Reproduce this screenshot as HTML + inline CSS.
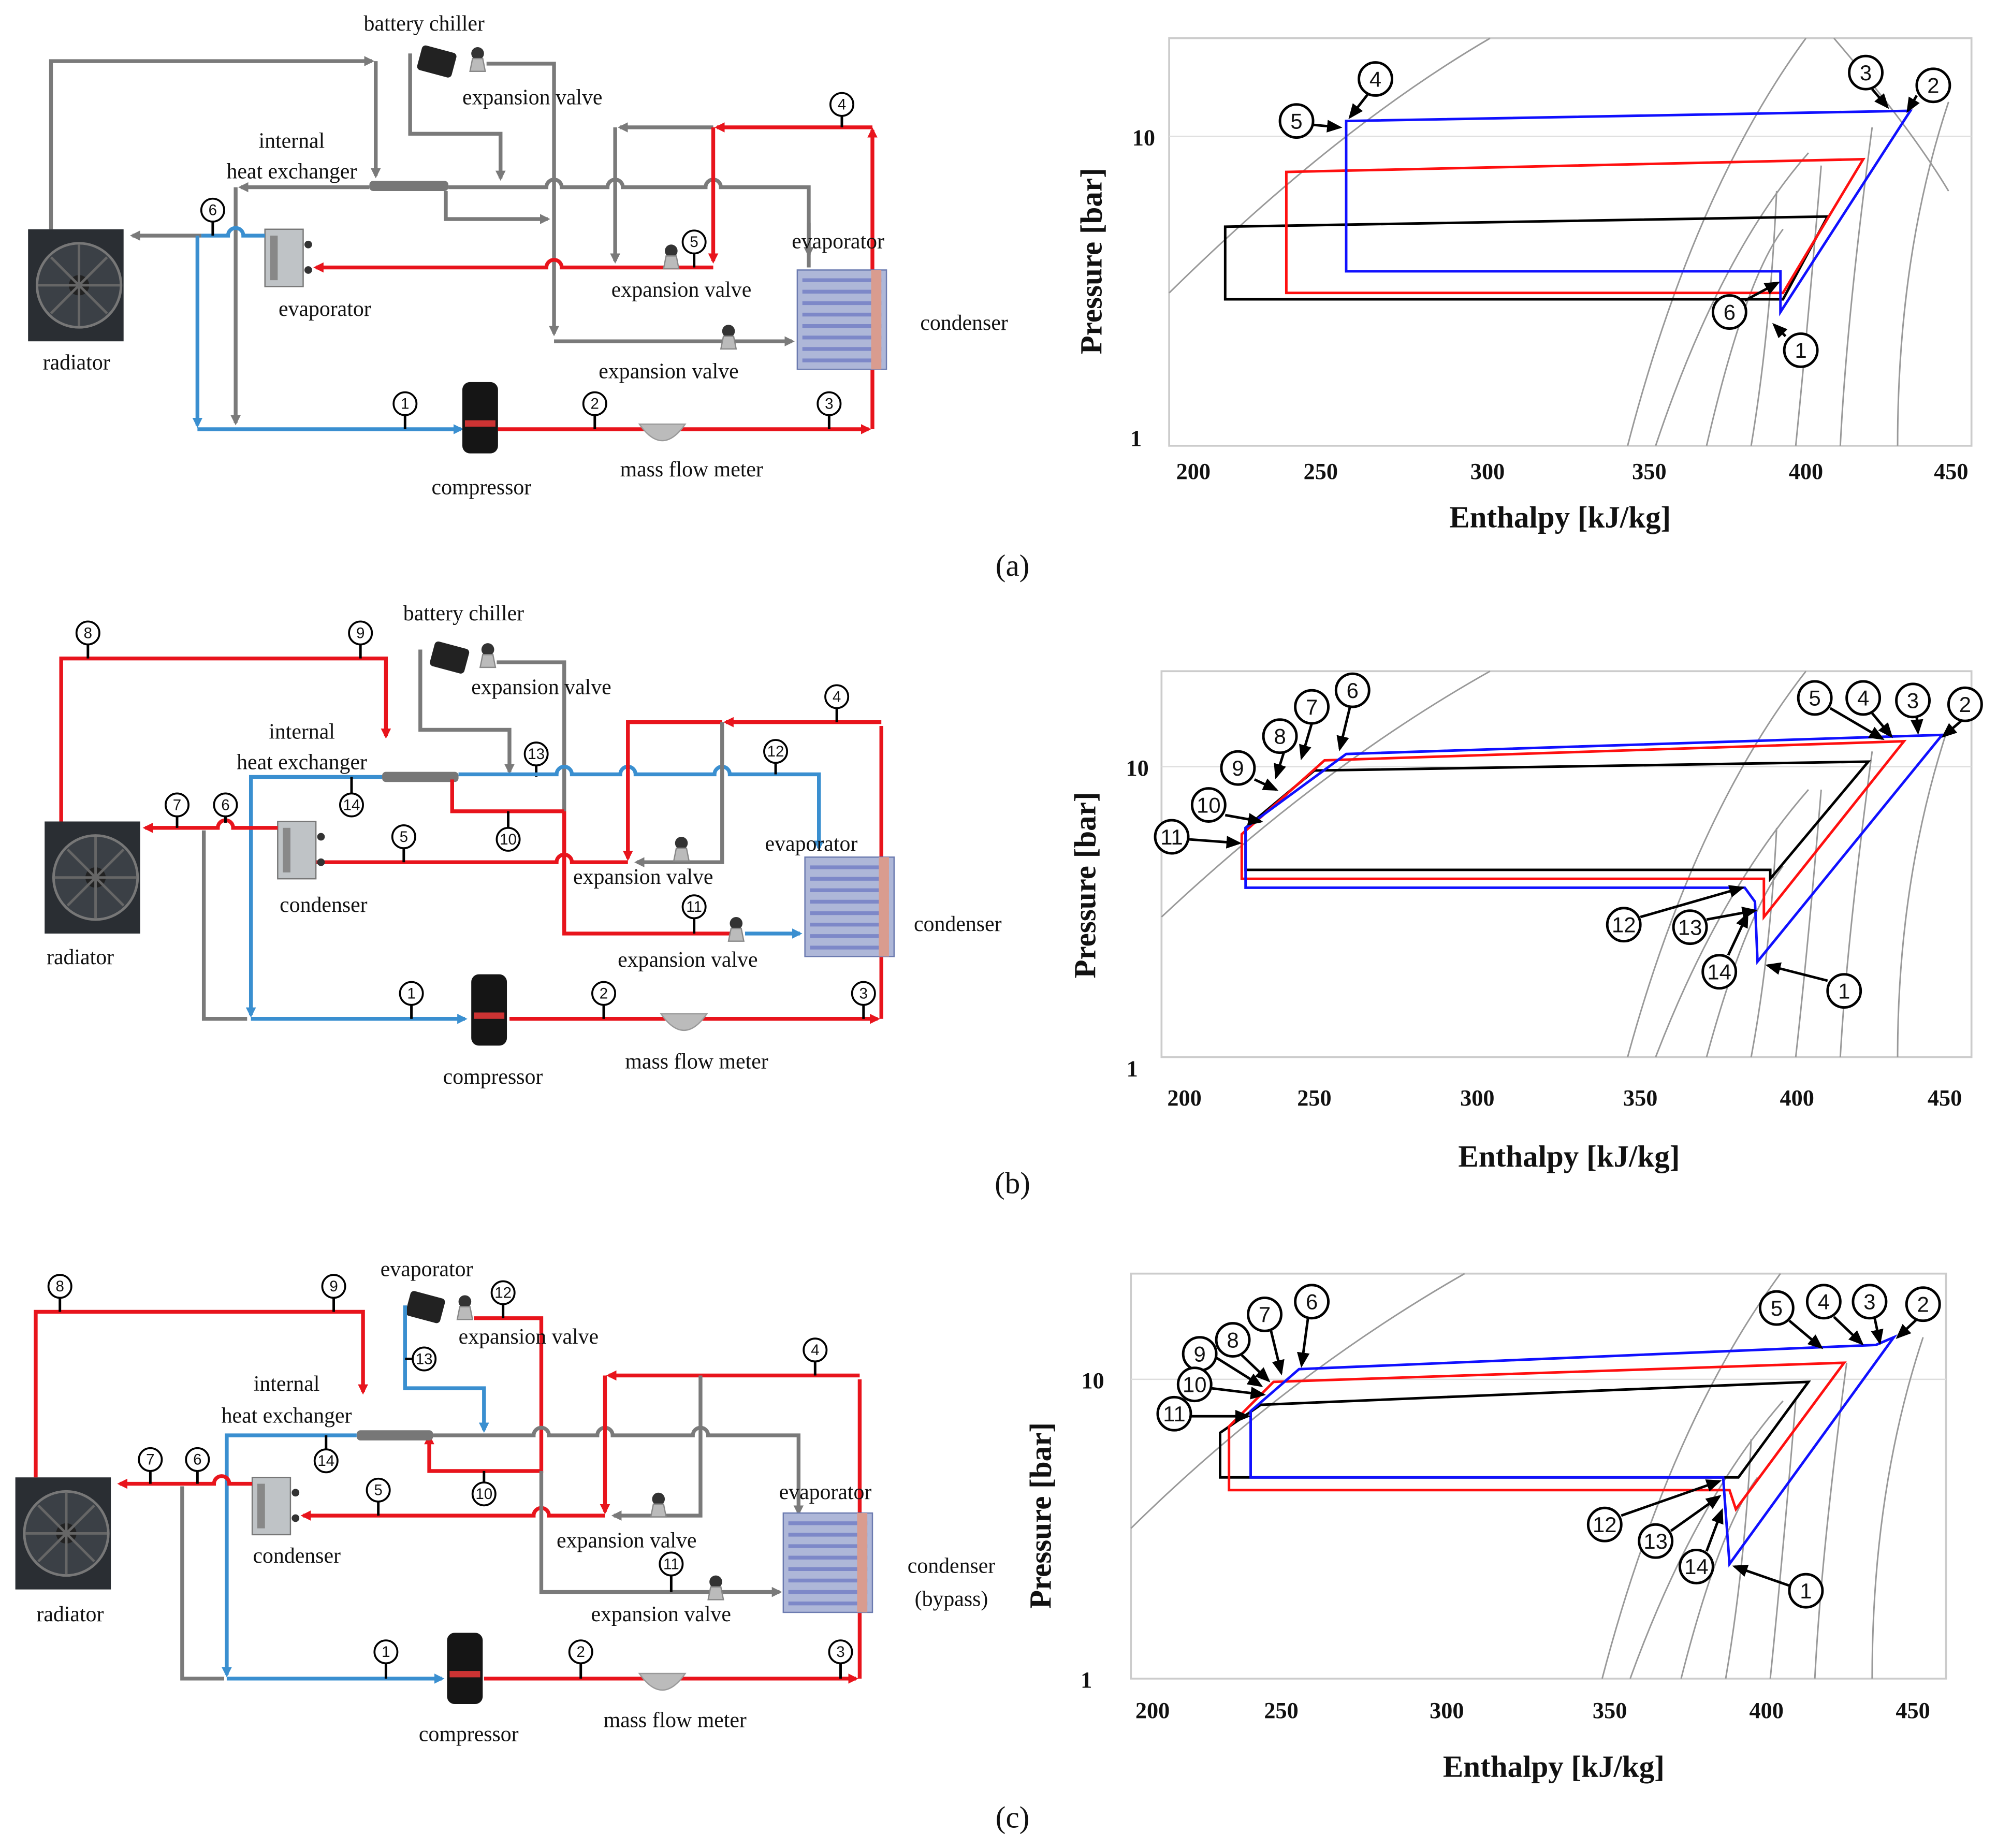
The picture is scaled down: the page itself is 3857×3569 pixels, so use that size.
<!DOCTYPE html>
<html><head><meta charset="utf-8"><style>
html,body{margin:0;padding:0;background:#fff;}
svg{display:block;}
text{font-family:"Liberation Serif",serif;fill:#111;}
.l{font-size:17px;text-anchor:middle;}
.n{font-size:12px;text-anchor:middle;font-family:"Liberation Sans",sans-serif;}
.pn{font-size:17px;text-anchor:middle;font-family:"Liberation Sans",sans-serif;}
.ax{font-size:20px;font-weight:bold;text-anchor:middle;}
.tk{font-size:18px;font-weight:bold;text-anchor:middle;}
.g{stroke:#7a7a7a;stroke-width:3;fill:none;}
.r{stroke:#e8141c;stroke-width:3;fill:none;}
.b{stroke:#3a8fd0;stroke-width:3;fill:none;}
.cb{stroke:#1010ff;stroke-width:2;fill:none;}
.cr{stroke:#ff1010;stroke-width:2;fill:none;}
.ck{stroke:#000;stroke-width:2;fill:none;}
.gr{stroke:#999;stroke-width:1.2;fill:none;}
.pa line{stroke:#000;stroke-width:2;marker-end:url(#ak);}
.dc circle{r:9;}
</style></head><body>
<svg width="3857" height="3569" viewBox="0 0 1568 1451" xmlns="http://www.w3.org/2000/svg">
<defs>
<marker id="ag" markerWidth="8" markerHeight="8" refX="6" refY="4" orient="auto" markerUnits="userSpaceOnUse"><path d="M0,0L8,4L0,8z" fill="#7a7a7a"/></marker>
<marker id="ar" markerWidth="8" markerHeight="8" refX="6" refY="4" orient="auto" markerUnits="userSpaceOnUse"><path d="M0,0L8,4L0,8z" fill="#e8141c"/></marker>
<marker id="ab" markerWidth="8" markerHeight="8" refX="6" refY="4" orient="auto" markerUnits="userSpaceOnUse"><path d="M0,0L8,4L0,8z" fill="#3a8fd0"/></marker>
<marker id="ak" markerWidth="12" markerHeight="10" refX="10" refY="5" orient="auto" markerUnits="userSpaceOnUse"><path d="M0,0L12,5L0,10z" fill="#000"/></marker>
<g id="rad"><rect x="0" y="0" width="75" height="88" fill="#2a2e33"/><circle cx="40" cy="44" r="33" fill="#3b4046" stroke="#777" stroke-width="2"/><circle cx="40" cy="44" r="8" fill="#222"/><path d="M40,12L40,76M8,44L72,44M18,22L62,66M62,22L18,66" stroke="#666" stroke-width="2"/></g>
<g id="comp"><rect x="0" y="0" width="28" height="56" rx="6" fill="#151515"/><rect x="2" y="30" width="24" height="5" fill="#c33"/></g>
<g id="evs"><rect x="0" y="0" width="30" height="45" fill="#bfc3c6" stroke="#777"/><rect x="4" y="5" width="6" height="35" fill="#888"/><circle cx="34" cy="12" r="3" fill="#333"/><circle cx="34" cy="32" r="3" fill="#333"/></g>
<g id="bhx"><rect x="0" y="0" width="70" height="78" fill="#aeb7d8" stroke="#6c7bb0"/><path d="M4,8H66M4,17H66M4,26H66M4,35H66M4,44H66M4,53H66M4,62H66M4,71H66" stroke="#7d88c8" stroke-width="3"/><rect x="58" y="0" width="8" height="78" fill="#d99c8f"/></g>
<g id="val"><circle cx="0" cy="-8" r="5" fill="#333"/><path d="M-4,-4L4,-4L6,6L-6,6z" fill="#bbb" stroke="#888"/></g>
<g id="chl"><rect x="0" y="0" width="28" height="20" rx="3" fill="#222" transform="rotate(15)"/></g>
<g id="mfm"><path d="M-18,-4Q0,22 18,-4z" fill="#bbb" stroke="#999"/></g>
</defs>

<g class="dc">
<!-- ================= PANEL A LEFT ================= -->
<use href="#rad" x="22" y="180"/>
<text class="l" x="60" y="290">radiator</text>
<path class="g" d="M40,180V48H292" marker-end="url(#ag)"/>
<path class="g" d="M295,48V138" marker-end="url(#ag)"/>
<text class="l" x="333" y="24">battery chiller</text>
<use href="#chl" x="332" y="35"/>
<use href="#val" x="375" y="50"/>
<path class="g" d="M382,50H435V262" marker-end="url(#ag)"/>
<path class="g" d="M322,42V105H393V140" marker-end="url(#ag)"/>
<text class="l" x="418" y="82">expansion  valve</text>
<text class="l" x="229" y="116">internal</text>
<text class="l" x="229" y="140">heat exchanger</text>
<path class="g" d="M290,147H189" marker-end="url(#ag)"/>
<path class="g" d="M185,147V332" marker-end="url(#ag)"/>
<rect x="290" y="142" width="62" height="8" rx="3" fill="#777"/>
<path class="g" d="M352,147H429a6,6 0 0 1 12,0H477a6,6 0 0 1 12,0H554a6,6 0 0 1 12,0H635V210"/>
<path class="g" d="M635,175V200" marker-end="url(#ag)"/>
<path class="g" d="M350,150V172H430" marker-end="url(#ag)"/>
<path class="g" d="M560,100H487" marker-end="url(#ag)"/>
<path class="g" d="M483,100V205" marker-end="url(#ag)"/>
<path class="r" d="M685,337V102" marker-end="url(#ar)"/>
<path class="r" d="M685,100H563" marker-end="url(#ar)"/>
<path class="r" d="M560,100V205" marker-end="url(#ar)"/>
<path class="r" d="M560,210H441a6,6 0 0 0 -12,0H248" marker-end="url(#ar)"/>
<use href="#val" x="527" y="205"/>
<line x1="661" y1="90" x2="661" y2="100" stroke="#000" stroke-width="2"/><circle cx="661" cy="82" r="9" fill="#fff" stroke="#000" stroke-width="1.5"/><text class="n" x="661" y="86">4</text>
<line x1="545" y1="198" x2="545" y2="210" stroke="#000" stroke-width="2"/><circle cx="545" cy="190" r="9" fill="#fff" stroke="#000" stroke-width="1.5"/><text class="n" x="545" y="194">5</text>
<path class="g" d="M435,268H622" marker-end="url(#ag)"/>
<use href="#val" x="572" y="268"/>
<text class="l" x="535" y="233">expansion  valve</text>
<text class="l" x="525" y="297">expansion  valve</text>
<use href="#evs" x="208" y="180"/>
<text class="l" x="255" y="248">evaporator</text>
<path class="b" d="M208,185H191a6,6 0 0 0 -12,0H158"/>
<path class="g" d="M158,185H104" marker-end="url(#ag)"/>
<path class="b" d="M155,185V334" marker-end="url(#ab)"/>
<path class="b" d="M155,337H362" marker-end="url(#ab)"/>
<line x1="167" y1="173" x2="167" y2="185" stroke="#000" stroke-width="2"/><circle cx="167" cy="165" r="9" fill="#fff" stroke="#000" stroke-width="1.5"/><text class="n" x="167" y="169">6</text>
<line x1="318" y1="325" x2="318" y2="337" stroke="#000" stroke-width="2"/><circle cx="318" cy="317" r="9" fill="#fff" stroke="#000" stroke-width="1.5"/><text class="n" x="318" y="321">1</text>
<use href="#comp" x="363" y="300"/>
<text class="l" x="378" y="388">compressor</text>
<path class="r" d="M391,337H682" marker-end="url(#ar)"/>
<use href="#mfm" x="520" y="337"/>
<line x1="467" y1="325" x2="467" y2="337" stroke="#000" stroke-width="2"/><circle cx="467" cy="317" r="9" fill="#fff" stroke="#000" stroke-width="1.5"/><text class="n" x="467" y="321">2</text>
<line x1="651" y1="325" x2="651" y2="337" stroke="#000" stroke-width="2"/><circle cx="651" cy="317" r="9" fill="#fff" stroke="#000" stroke-width="1.5"/><text class="n" x="651" y="321">3</text>
<text class="l" x="543" y="374">mass  flow  meter</text>
<use href="#bhx" x="626" y="212"/>
<text class="l" x="658" y="195">evaporator</text>
<text class="l" x="757" y="259">condenser</text>
<text class="l" x="795" y="452" style="font-size:24px">(a)</text>
</g>

<!-- ================= PANEL A RIGHT ================= -->
<rect x="918" y="30" width="630" height="320" fill="none" stroke="#ccc" stroke-width="1.5"/>
<line x1="918" y1="107" x2="1548" y2="107" stroke="#ddd"/>
<path class="gr" d="M918,230Q1050,100 1170,30"/>
<path class="gr" d="M1278,350Q1330,150 1418,30"/>
<path class="gr" d="M1300,350Q1350,200 1420,120M1340,350Q1370,220 1400,180M1375,350Q1390,260 1395,150M1410,350Q1420,250 1430,130M1445,350Q1450,250 1470,100M1490,350Q1490,200 1530,80M1440,30Q1500,100 1530,150"/>
<text class="tk" x="937" y="376">200</text><text class="tk" x="1037" y="376">250</text><text class="tk" x="1168" y="376">300</text><text class="tk" x="1295" y="376">350</text><text class="tk" x="1418" y="376">400</text><text class="tk" x="1532" y="376">450</text>
<text class="tk" x="898" y="114">10</text><text class="tk" x="892" y="350">1</text>
<text class="ax" transform="translate(865,205) rotate(-90)" style="font-size:24px">Pressure  [bar]</text>
<text class="ax" x="1225" y="414" style="font-size:24px">Enthalpy [kJ/kg]</text>
<path class="ck" d="M962,178L1435,170L1400,235H962z"/>
<path class="cr" d="M1010,135L1463,125L1400,230H1010z"/>
<path class="cb" d="M1057,95L1500,87L1398,245L1398,213H1057z"/>
<circle cx="1080" cy="62" r="13" fill="#fff" stroke="#000" stroke-width="2"/><text class="pn" x="1080" y="68">4</text>
<circle cx="1018" cy="95" r="13" fill="#fff" stroke="#000" stroke-width="2"/><text class="pn" x="1018" y="101">5</text>
<circle cx="1465" cy="57" r="13" fill="#fff" stroke="#000" stroke-width="2"/><text class="pn" x="1465" y="63">3</text>
<circle cx="1518" cy="67" r="13" fill="#fff" stroke="#000" stroke-width="2"/><text class="pn" x="1518" y="73">2</text>
<circle cx="1358" cy="245" r="13" fill="#fff" stroke="#000" stroke-width="2"/><text class="pn" x="1358" y="251">6</text>
<circle cx="1414" cy="275" r="13" fill="#fff" stroke="#000" stroke-width="2"/><text class="pn" x="1414" y="281">1</text>
<g class="pa">
<line x1="1074" y1="74" x2="1060" y2="92"/><line x1="1031" y1="98" x2="1052" y2="100"/><line x1="1470" y1="70" x2="1482" y2="84"/><line x1="1505" y1="75" x2="1498" y2="87"/><line x1="1370" y1="236" x2="1396" y2="222"/><line x1="1402" y1="264" x2="1393" y2="255"/>
</g>

<g class="dc">
<!-- ================= PANEL B LEFT ================= -->
<use href="#rad" x="35" y="645"/>
<text class="l" x="63" y="757">radiator</text>
<path class="r" d="M48,645V517H303V578" marker-end="url(#ar)"/>
<line x1="69" y1="505" x2="69" y2="517" stroke="#000" stroke-width="2"/><circle cx="69" cy="497" r="9" fill="#fff" stroke="#000" stroke-width="1.5"/><text class="n" x="69" y="501">8</text>
<line x1="283" y1="505" x2="283" y2="517" stroke="#000" stroke-width="2"/><circle cx="283" cy="497" r="9" fill="#fff" stroke="#000" stroke-width="1.5"/><text class="n" x="283" y="501">9</text>
<text class="l" x="364" y="487">battery chiller</text>
<use href="#chl" x="342" y="503"/>
<use href="#val" x="383" y="518"/>
<path class="g" d="M390,520H443V730"/>
<path class="g" d="M330,510V573H400V606" marker-end="url(#ag)"/>
<text class="l" x="425" y="545">expansion  valve</text>
<line x1="421" y1="600" x2="421" y2="610" stroke="#000" stroke-width="2"/><circle cx="421" cy="592" r="9" fill="#fff" stroke="#000" stroke-width="1.5"/><text class="n" x="421" y="596">13</text>
<text class="l" x="237" y="580">internal</text>
<text class="l" x="237" y="604">heat exchanger</text>
<rect x="300" y="606" width="60" height="8" rx="3" fill="#777"/>
<path class="b" d="M300,610H197V797" marker-end="url(#ab)"/>
<line x1="276" y1="610" x2="276" y2="624" stroke="#000" stroke-width="2"/><circle cx="276" cy="632" r="9" fill="#fff" stroke="#000" stroke-width="1.5"/><text class="n" x="276" y="636">14</text>
<path class="b" d="M360,608H437a6,6 0 0 1 12,0H487a6,6 0 0 1 12,0H561a6,6 0 0 1 12,0H643V666" marker-end="url(#ab)"/>
<line x1="609" y1="598" x2="609" y2="608" stroke="#000" stroke-width="2"/><circle cx="609" cy="590" r="9" fill="#fff" stroke="#000" stroke-width="1.5"/><text class="n" x="609" y="594">12</text>
<path class="r" d="M355,612V637H443"/>
<line x1="399" y1="637" x2="399" y2="651" stroke="#000" stroke-width="2"/><circle cx="399" cy="659" r="9" fill="#fff" stroke="#000" stroke-width="1.5"/><text class="n" x="399" y="663">10</text>
<path class="r" d="M692,800V570"/>
<path class="r" d="M692,567H570" marker-end="url(#ar)"/>
<path class="r" d="M567,567H493V674" marker-end="url(#ar)"/>
<line x1="657" y1="555" x2="657" y2="567" stroke="#000" stroke-width="2"/><circle cx="657" cy="547" r="9" fill="#fff" stroke="#000" stroke-width="1.5"/><text class="n" x="657" y="551">4</text>
<path class="g" d="M567,567V677H500" marker-end="url(#ag)"/>
<use href="#val" x="535" y="670"/>
<path class="r" d="M493,677H449a6,6 0 0 0 -12,0H228" marker-end="url(#ar)"/>
<line x1="317" y1="665" x2="317" y2="677" stroke="#000" stroke-width="2"/><circle cx="317" cy="657" r="9" fill="#fff" stroke="#000" stroke-width="1.5"/><text class="n" x="317" y="661">5</text>
<text class="l" x="505" y="694">expansion  valve</text>
<path class="r" d="M443,637V733H583"/>
<use href="#val" x="578" y="733"/>
<path class="b" d="M585,733H628" marker-end="url(#ab)"/>
<line x1="545" y1="720" x2="545" y2="733" stroke="#000" stroke-width="2"/><circle cx="545" cy="712" r="9" fill="#fff" stroke="#000" stroke-width="1.5"/><text class="n" x="545" y="716">11</text>
<text class="l" x="540" y="759">expansion  valve</text>
<use href="#evs" x="218" y="645"/>
<text class="l" x="254" y="716">condenser</text>
<path class="r" d="M218,650H183a6,6 0 0 0 -12,0H114" marker-end="url(#ar)"/>
<line x1="139" y1="640" x2="139" y2="650" stroke="#000" stroke-width="2"/><circle cx="139" cy="632" r="9" fill="#fff" stroke="#000" stroke-width="1.5"/><text class="n" x="139" y="636">7</text>
<line x1="177" y1="640" x2="177" y2="646" stroke="#000" stroke-width="2"/><circle cx="177" cy="632" r="9" fill="#fff" stroke="#000" stroke-width="1.5"/><text class="n" x="177" y="636">6</text>
<path class="g" d="M160,652V800H194"/>
<path class="b" d="M197,800H365" marker-end="url(#ab)"/>
<line x1="323" y1="788" x2="323" y2="800" stroke="#000" stroke-width="2"/><circle cx="323" cy="780" r="9" fill="#fff" stroke="#000" stroke-width="1.5"/><text class="n" x="323" y="784">1</text>
<use href="#comp" x="370" y="765"/>
<text class="l" x="387" y="851">compressor</text>
<path class="r" d="M400,800H689" marker-end="url(#ar)"/>
<use href="#mfm" x="537" y="800"/>
<line x1="474" y1="788" x2="474" y2="800" stroke="#000" stroke-width="2"/><circle cx="474" cy="780" r="9" fill="#fff" stroke="#000" stroke-width="1.5"/><text class="n" x="474" y="784">2</text>
<line x1="678" y1="788" x2="678" y2="800" stroke="#000" stroke-width="2"/><circle cx="678" cy="780" r="9" fill="#fff" stroke="#000" stroke-width="1.5"/><text class="n" x="678" y="784">3</text>
<text class="l" x="547" y="839">mass  flow  meter</text>
<use href="#bhx" x="632" y="673"/>
<text class="l" x="637" y="668">evaporator</text>
<text class="l" x="752" y="731">condenser</text>
<text class="l" x="795" y="937" style="font-size:24px">(b)</text>
</g>

<!-- ================= PANEL B RIGHT ================= -->
<rect x="912" y="527" width="636" height="303" fill="none" stroke="#ccc" stroke-width="1.5"/>
<line x1="912" y1="602" x2="1548" y2="602" stroke="#ddd"/>
<path class="gr" d="M912,720Q1040,600 1170,527"/>
<path class="gr" d="M1278,830Q1330,640 1418,527M1300,830Q1350,700 1420,620M1340,830Q1370,720 1400,680M1375,830Q1390,750 1395,650M1410,830Q1420,740 1430,620M1445,830Q1450,740 1470,590M1490,830Q1490,690 1530,570"/>
<text class="tk" x="930" y="868">200</text><text class="tk" x="1032" y="868">250</text><text class="tk" x="1160" y="868">300</text><text class="tk" x="1288" y="868">350</text><text class="tk" x="1411" y="868">400</text><text class="tk" x="1527" y="868">450</text>
<text class="tk" x="893" y="609">10</text><text class="tk" x="889" y="845">1</text>
<text class="ax" transform="translate(860,695) rotate(-90)" style="font-size:24px">Pressure  [bar]</text>
<text class="ax" x="1232" y="916" style="font-size:24px">Enthalpy [kJ/kg]</text>
<path class="ck" d="M978,650L1032,605L1467,598L1390,690L1390,683H978z"/>
<path class="cr" d="M975,655L1040,597L1495,582L1385,720L1385,690H975z"/>
<path class="cb" d="M978,650L1057,592L1525,577L1380,755L1378,708L1370,697H978z"/>
<circle cx="1062" cy="542" r="13" fill="#fff" stroke="#000" stroke-width="2"/><text class="pn" x="1062" y="548">6</text>
<circle cx="1030" cy="555" r="13" fill="#fff" stroke="#000" stroke-width="2"/><text class="pn" x="1030" y="561">7</text>
<circle cx="1005" cy="578" r="13" fill="#fff" stroke="#000" stroke-width="2"/><text class="pn" x="1005" y="584">8</text>
<circle cx="972" cy="603" r="13" fill="#fff" stroke="#000" stroke-width="2"/><text class="pn" x="972" y="609">9</text>
<circle cx="949" cy="632" r="13" fill="#fff" stroke="#000" stroke-width="2"/><text class="pn" x="949" y="638">10</text>
<circle cx="920" cy="657" r="13" fill="#fff" stroke="#000" stroke-width="2"/><text class="pn" x="920" y="663">11</text>
<circle cx="1425" cy="548" r="13" fill="#fff" stroke="#000" stroke-width="2"/><text class="pn" x="1425" y="554">5</text>
<circle cx="1463" cy="548" r="13" fill="#fff" stroke="#000" stroke-width="2"/><text class="pn" x="1463" y="554">4</text>
<circle cx="1502" cy="550" r="13" fill="#fff" stroke="#000" stroke-width="2"/><text class="pn" x="1502" y="556">3</text>
<circle cx="1543" cy="553" r="13" fill="#fff" stroke="#000" stroke-width="2"/><text class="pn" x="1543" y="559">2</text>
<circle cx="1275" cy="726" r="13" fill="#fff" stroke="#000" stroke-width="2"/><text class="pn" x="1275" y="732">12</text>
<circle cx="1327" cy="728" r="13" fill="#fff" stroke="#000" stroke-width="2"/><text class="pn" x="1327" y="734">13</text>
<circle cx="1350" cy="763" r="13" fill="#fff" stroke="#000" stroke-width="2"/><text class="pn" x="1350" y="769">14</text>
<circle cx="1448" cy="778" r="13" fill="#fff" stroke="#000" stroke-width="2"/><text class="pn" x="1448" y="784">1</text>
<g class="pa">
<line x1="1060" y1="555" x2="1052" y2="588"/><line x1="1030" y1="568" x2="1022" y2="595"/><line x1="1008" y1="591" x2="1002" y2="610"/><line x1="985" y1="612" x2="1002" y2="620"/><line x1="962" y1="640" x2="990" y2="645"/><line x1="933" y1="659" x2="973" y2="662"/><line x1="1437" y1="556" x2="1478" y2="580"/><line x1="1470" y1="560" x2="1485" y2="578"/><line x1="1505" y1="563" x2="1506" y2="575"/><line x1="1540" y1="566" x2="1526" y2="578"/><line x1="1288" y1="720" x2="1368" y2="697"/><line x1="1340" y1="722" x2="1378" y2="715"/><line x1="1357" y1="750" x2="1372" y2="718"/><line x1="1435" y1="770" x2="1388" y2="758"/>
</g>

<g class="dc">
<!-- ================= PANEL C LEFT ================= -->
<use href="#rad" x="12" y="1160"/>
<text class="l" x="55" y="1273">radiator</text>
<path class="r" d="M28,1160V1030H285V1093" marker-end="url(#ar)"/>
<line x1="47" y1="1018" x2="47" y2="1030" stroke="#000" stroke-width="2"/><circle cx="47" cy="1010" r="9" fill="#fff" stroke="#000" stroke-width="1.5"/><text class="n" x="47" y="1014">8</text>
<line x1="262" y1="1018" x2="262" y2="1030" stroke="#000" stroke-width="2"/><circle cx="262" cy="1010" r="9" fill="#fff" stroke="#000" stroke-width="1.5"/><text class="n" x="262" y="1014">9</text>
<text class="l" x="335" y="1002">evaporator</text>
<use href="#chl" x="323" y="1013"/>
<use href="#val" x="365" y="1030"/>
<path class="r" d="M372,1035H425V1155H337V1128" marker-end="url(#ar)"/>
<line x1="395" y1="1023" x2="395" y2="1035" stroke="#000" stroke-width="2"/><circle cx="395" cy="1015" r="9" fill="#fff" stroke="#000" stroke-width="1.5"/><text class="n" x="395" y="1019">12</text>
<path class="b" d="M318,1025V1090H380V1123" marker-end="url(#ab)"/>
<line x1="318" y1="1067" x2="325" y2="1067" stroke="#000" stroke-width="2"/><circle cx="333" cy="1067" r="9" fill="#fff" stroke="#000" stroke-width="1.5"/><text class="n" x="333" y="1071">13</text>
<text class="l" x="415" y="1055">expansion  valve</text>
<text class="l" x="225" y="1092">internal</text>
<text class="l" x="225" y="1117">heat exchanger</text>
<rect x="280" y="1123" width="60" height="8" rx="3" fill="#777"/>
<path class="b" d="M280,1127H178V1315" marker-end="url(#ab)"/>
<line x1="256" y1="1127" x2="256" y2="1139" stroke="#000" stroke-width="2"/><circle cx="256" cy="1147" r="9" fill="#fff" stroke="#000" stroke-width="1.5"/><text class="n" x="256" y="1151">14</text>
<path class="g" d="M340,1127H419a6,6 0 0 1 12,0H469a6,6 0 0 1 12,0H544a6,6 0 0 1 12,0H627V1188" marker-end="url(#ag)"/>
<line x1="380" y1="1155" x2="380" y2="1165" stroke="#000" stroke-width="2"/><circle cx="380" cy="1173" r="9" fill="#fff" stroke="#000" stroke-width="1.5"/><text class="n" x="380" y="1177">10</text>
<path class="r" d="M675,1318V1083"/>
<path class="r" d="M675,1080H478" marker-end="url(#ar)"/>
<path class="r" d="M475,1080V1187" marker-end="url(#ar)"/>
<line x1="640" y1="1068" x2="640" y2="1080" stroke="#000" stroke-width="2"/><circle cx="640" cy="1060" r="9" fill="#fff" stroke="#000" stroke-width="1.5"/><text class="n" x="640" y="1064">4</text>
<path class="g" d="M550,1080V1190H482" marker-end="url(#ag)"/>
<use href="#val" x="517" y="1185"/>
<path class="r" d="M475,1190H431a6,6 0 0 0 -12,0H238" marker-end="url(#ar)"/>
<line x1="297" y1="1178" x2="297" y2="1190" stroke="#000" stroke-width="2"/><circle cx="297" cy="1170" r="9" fill="#fff" stroke="#000" stroke-width="1.5"/><text class="n" x="297" y="1174">5</text>
<text class="l" x="492" y="1215">expansion  valve</text>
<path class="g" d="M425,1155V1250H612" marker-end="url(#ag)"/>
<use href="#val" x="562" y="1250"/>
<line x1="527" y1="1236" x2="527" y2="1250" stroke="#000" stroke-width="2"/><circle cx="527" cy="1228" r="9" fill="#fff" stroke="#000" stroke-width="1.5"/><text class="n" x="527" y="1232">11</text>
<text class="l" x="519" y="1273">expansion  valve</text>
<use href="#evs" x="198" y="1160"/>
<text class="l" x="233" y="1227">condenser</text>
<path class="r" d="M198,1165H180a6,6 0 0 0 -12,0H94" marker-end="url(#ar)"/>
<line x1="118" y1="1154" x2="118" y2="1165" stroke="#000" stroke-width="2"/><circle cx="118" cy="1146" r="9" fill="#fff" stroke="#000" stroke-width="1.5"/><text class="n" x="118" y="1150">7</text>
<line x1="155" y1="1154" x2="155" y2="1165" stroke="#000" stroke-width="2"/><circle cx="155" cy="1146" r="9" fill="#fff" stroke="#000" stroke-width="1.5"/><text class="n" x="155" y="1150">6</text>
<path class="g" d="M143,1167V1318H176"/>
<path class="b" d="M178,1318H347" marker-end="url(#ab)"/>
<line x1="303" y1="1305" x2="303" y2="1318" stroke="#000" stroke-width="2"/><circle cx="303" cy="1297" r="9" fill="#fff" stroke="#000" stroke-width="1.5"/><text class="n" x="303" y="1301">1</text>
<use href="#comp" x="351" y="1282"/>
<text class="l" x="368" y="1367">compressor</text>
<path class="r" d="M380,1318H672" marker-end="url(#ar)"/>
<use href="#mfm" x="520" y="1318"/>
<line x1="456" y1="1305" x2="456" y2="1318" stroke="#000" stroke-width="2"/><circle cx="456" cy="1297" r="9" fill="#fff" stroke="#000" stroke-width="1.5"/><text class="n" x="456" y="1301">2</text>
<line x1="660" y1="1305" x2="660" y2="1318" stroke="#000" stroke-width="2"/><circle cx="660" cy="1297" r="9" fill="#fff" stroke="#000" stroke-width="1.5"/><text class="n" x="660" y="1301">3</text>
<text class="l" x="530" y="1356">mass  flow  meter</text>
<use href="#bhx" x="615" y="1188"/>
<text class="l" x="648" y="1177">evaporator</text>
<text class="l" x="747" y="1235">condenser</text>
<text class="l" x="747" y="1261">(bypass)</text>
<text class="l" x="795" y="1435" style="font-size:24px">(c)</text>
</g>

<!-- ================= PANEL C RIGHT ================= -->
<rect x="888" y="1000" width="640" height="318" fill="none" stroke="#ccc" stroke-width="1.5"/>
<line x1="888" y1="1083" x2="1528" y2="1083" stroke="#ddd"/>
<path class="gr" d="M888,1200Q1010,1080 1150,1000"/>
<path class="gr" d="M1258,1318Q1310,1120 1398,1000M1280,1318Q1330,1180 1400,1100M1320,1318Q1350,1200 1380,1160M1355,1318Q1370,1230 1375,1130M1390,1318Q1400,1220 1410,1100M1425,1318Q1430,1220 1450,1070M1470,1318Q1470,1170 1510,1050"/>
<text class="tk" x="905" y="1349">200</text><text class="tk" x="1006" y="1349">250</text><text class="tk" x="1136" y="1349">300</text><text class="tk" x="1264" y="1349">350</text><text class="tk" x="1387" y="1349">400</text><text class="tk" x="1502" y="1349">450</text>
<text class="tk" x="858" y="1090">10</text><text class="tk" x="853" y="1325">1</text>
<text class="ax" transform="translate(825,1190) rotate(-90)" style="font-size:24px">Pressure  [bar]</text>
<text class="ax" x="1220" y="1395" style="font-size:24px">Enthalpy [kJ/kg]</text>
<path class="ck" d="M958,1125L990,1103L1420,1085L1365,1160H958z"/>
<path class="cr" d="M965,1120L1000,1085L1448,1070L1363,1185L1358,1170H965z"/>
<path class="cb" d="M982,1108L1020,1075L1473,1056L1487,1050L1358,1228L1353,1160H982z"/>
<circle cx="1030" cy="1022" r="13" fill="#fff" stroke="#000" stroke-width="2"/><text class="pn" x="1030" y="1028">6</text>
<circle cx="993" cy="1032" r="13" fill="#fff" stroke="#000" stroke-width="2"/><text class="pn" x="993" y="1038">7</text>
<circle cx="968" cy="1052" r="13" fill="#fff" stroke="#000" stroke-width="2"/><text class="pn" x="968" y="1058">8</text>
<circle cx="942" cy="1063" r="13" fill="#fff" stroke="#000" stroke-width="2"/><text class="pn" x="942" y="1069">9</text>
<circle cx="938" cy="1087" r="13" fill="#fff" stroke="#000" stroke-width="2"/><text class="pn" x="938" y="1093">10</text>
<circle cx="922" cy="1110" r="13" fill="#fff" stroke="#000" stroke-width="2"/><text class="pn" x="922" y="1116">11</text>
<circle cx="1395" cy="1027" r="13" fill="#fff" stroke="#000" stroke-width="2"/><text class="pn" x="1395" y="1033">5</text>
<circle cx="1432" cy="1022" r="13" fill="#fff" stroke="#000" stroke-width="2"/><text class="pn" x="1432" y="1028">4</text>
<circle cx="1468" cy="1022" r="13" fill="#fff" stroke="#000" stroke-width="2"/><text class="pn" x="1468" y="1028">3</text>
<circle cx="1510" cy="1024" r="13" fill="#fff" stroke="#000" stroke-width="2"/><text class="pn" x="1510" y="1030">2</text>
<circle cx="1260" cy="1197" r="13" fill="#fff" stroke="#000" stroke-width="2"/><text class="pn" x="1260" y="1203">12</text>
<circle cx="1300" cy="1210" r="13" fill="#fff" stroke="#000" stroke-width="2"/><text class="pn" x="1300" y="1216">13</text>
<circle cx="1332" cy="1230" r="13" fill="#fff" stroke="#000" stroke-width="2"/><text class="pn" x="1332" y="1236">14</text>
<circle cx="1418" cy="1249" r="13" fill="#fff" stroke="#000" stroke-width="2"/><text class="pn" x="1418" y="1255">1</text>
<g class="pa">
<line x1="1027" y1="1035" x2="1022" y2="1072"/><line x1="998" y1="1045" x2="1006" y2="1078"/><line x1="975" y1="1064" x2="996" y2="1084"/><line x1="955" y1="1066" x2="990" y2="1088"/><line x1="951" y1="1090" x2="992" y2="1095"/><line x1="935" y1="1112" x2="980" y2="1112"/><line x1="1405" y1="1037" x2="1430" y2="1058"/><line x1="1440" y1="1034" x2="1462" y2="1055"/><line x1="1472" y1="1035" x2="1476" y2="1054"/><line x1="1505" y1="1036" x2="1490" y2="1050"/><line x1="1273" y1="1190" x2="1350" y2="1163"/><line x1="1312" y1="1202" x2="1350" y2="1175"/><line x1="1340" y1="1218" x2="1352" y2="1186"/><line x1="1405" y1="1245" x2="1362" y2="1230"/>
</g>
</svg>
</body></html>
